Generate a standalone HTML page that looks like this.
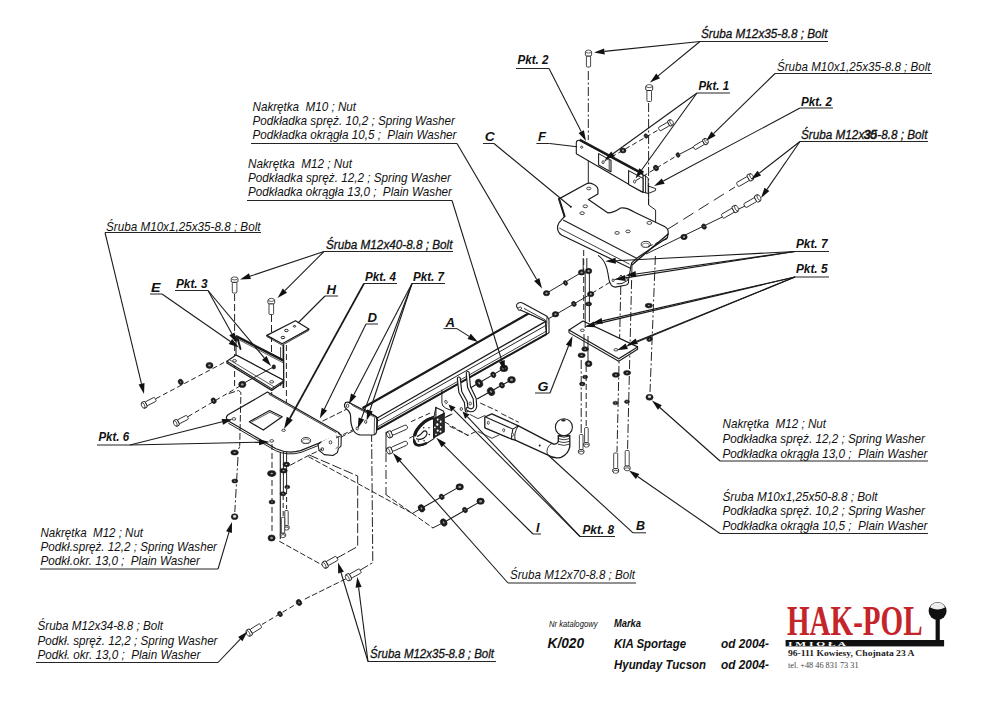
<!DOCTYPE html>
<html><head><meta charset="utf-8"><title>HAK-POL K/020</title>
<style>html,body{margin:0;padding:0;background:#fff}body{width:1000px;height:707px;overflow:hidden}svg{display:block}</style>
</head><body>
<svg width="1000" height="707" viewBox="0 0 1000 707">
<rect width="1000" height="707" fill="#fff"/>
<line x1="234.6" y1="294" x2="234.6" y2="360" stroke="#1a1a1a" stroke-width="0.96" stroke-dasharray="7 3"/>
<line x1="271.5" y1="315" x2="271.5" y2="381" stroke="#1a1a1a" stroke-width="0.96" stroke-dasharray="7 3"/>
<line x1="234.6" y1="362" x2="234.6" y2="389" stroke="#1a1a1a" stroke-width="0.96" stroke-dasharray="6 3"/>
<line x1="271.7" y1="383" x2="271.7" y2="410" stroke="#1a1a1a" stroke-width="0.96" stroke-dasharray="6 3"/>
<line x1="277.4" y1="418" x2="277.4" y2="446" stroke="#1a1a1a" stroke-width="0.96" stroke-dasharray="6 3"/>
<line x1="286.4" y1="345" x2="286.4" y2="428" stroke="#1a1a1a" stroke-width="0.96" stroke-dasharray="6 3"/>
<path d="M266.8 335.4 L295.5 320.7 L308.8 329.1 L282.2 343.8 Z" fill="#fff" stroke="#1a1a1a" stroke-width="1.2" stroke-linejoin="round" stroke-linecap="round"/>
<path d="M266.8 335.4 L266.8 336.6 L282.2 345.2 L308.8 330.4 L308.8 329.1" fill="none" stroke="#1a1a1a" stroke-width="0.84" stroke-linejoin="round" stroke-linecap="round"/>
<ellipse cx="286.4" cy="330.5" rx="1.8" ry="1.2" fill="#fff" stroke="#1a1a1a" stroke-width="1"/>
<ellipse cx="294.5" cy="326.3" rx="1.2" ry="0.8" fill="#fff" stroke="#1a1a1a" stroke-width="1"/>
<ellipse cx="282.9" cy="337.5" rx="1.8" ry="1.2" fill="#fff" stroke="#1a1a1a" stroke-width="1"/>
<line x1="283.4" y1="345" x2="283.4" y2="388" stroke="#1a1a1a" stroke-width="1.68"/>
<line x1="280.6" y1="347" x2="280.6" y2="386" stroke="#1a1a1a" stroke-width="0.84"/>
<path d="M236 336.1 L283.6 360.6 L283.6 380.2 L236 355 Z" fill="#fff" stroke="#1a1a1a" stroke-width="1.08" stroke-linejoin="round" stroke-linecap="round"/>
<line x1="236" y1="336.1" x2="283.6" y2="360.6" stroke="#1a1a1a" stroke-width="2.4"/>
<line x1="236.4" y1="338.5" x2="283.6" y2="363" stroke="#1a1a1a" stroke-width="0.72"/>
<path d="M236 355 L226.9 361.3 L271.7 388.6 L282.6 381.4 L283.6 380.2 Z" fill="#fff" stroke="#1a1a1a" stroke-width="1.08" stroke-linejoin="round" stroke-linecap="round"/>
<path d="M226.9 361.3 L226.9 363 L271.7 390.4 L283.6 382.2 L283.6 380" fill="none" stroke="#1a1a1a" stroke-width="1.32" stroke-linejoin="round" stroke-linecap="round"/>
<line x1="229.5" y1="359.8" x2="274" y2="386.8" stroke="#1a1a1a" stroke-width="0.72"/>
<ellipse cx="234.6" cy="360.8" rx="2" ry="1.2" fill="#fff" stroke="#1a1a1a" stroke-width="0.8"/>
<ellipse cx="271.7" cy="381.8" rx="2" ry="1.2" fill="#fff" stroke="#1a1a1a" stroke-width="0.8"/>
<ellipse cx="273.8" cy="366.9" rx="1.8" ry="2.2" fill="#222" stroke="#1a1a1a" stroke-width="0.5"/>
<ellipse cx="236.9" cy="338.4" rx="1.6" ry="2.2" fill="#222" stroke="#1a1a1a" stroke-width="0.5"/>
<path d="M238 340 L240.5 349" fill="none" stroke="#1a1a1a" stroke-width="1.92" stroke-linejoin="round" stroke-linecap="round"/>
<path d="M267.5 392.1 L338.2 432.2 Q341 433.8 338.5 435.2 L300.5 450.6 Q288 454.2 276 448.8 L229.3 421.6 Q224.2 418.2 228 414.8 Z" fill="#fff" stroke="#1a1a1a" stroke-width="1.2" stroke-linejoin="round" stroke-linecap="round"/>
<path d="M269 394.3 L336 432.5" fill="none" stroke="#1a1a1a" stroke-width="0.84" stroke-linejoin="round" stroke-linecap="round"/>
<path d="M228.6 423.3 L275.4 450.6 Q288 456.2 301 452.4 L336 438.5" fill="none" stroke="#1a1a1a" stroke-width="0.96" stroke-linejoin="round" stroke-linecap="round"/>
<path d="M249.3 421.7 L269.6 410.5 L282.2 416.8 L263.3 430.1 Z" fill="#fff" stroke="#1a1a1a" stroke-width="1.2" stroke-linejoin="round" stroke-linecap="round"/>
<path d="M251.8 421.8 L270 412.2 L280 417.4" fill="none" stroke="#1a1a1a" stroke-width="0.72" stroke-linejoin="round" stroke-linecap="round"/>
<ellipse cx="233.9" cy="418.9" rx="1.9" ry="1.3" fill="#fff" stroke="#1a1a1a" stroke-width="0.8"/>
<ellipse cx="271.7" cy="440.9" rx="1.9" ry="1.3" fill="#fff" stroke="#1a1a1a" stroke-width="0.8"/>
<ellipse cx="306" cy="440.6" rx="4.6" ry="3" fill="#fff" stroke="#1a1a1a" stroke-width="0.9"/>
<ellipse cx="306" cy="441.2" rx="3.6" ry="2.1" fill="#fff" stroke="#1a1a1a" stroke-width="0.5"/>
<ellipse cx="283.6" cy="430.3" rx="1.8" ry="1.1" fill="#fff" stroke="#1a1a1a" stroke-width="0.8"/>
<path d="M338.6 433.5 L341.3 435 L341 446.2 L338.4 448.3 L337.4 452.6 L333 455.5 L324.2 454.6 L319 450.4 L318 444.5 L321 442" fill="#fff" stroke="#1a1a1a" stroke-width="1.08" stroke-linejoin="round" stroke-linecap="round"/>
<path d="M336.2 436 L338.6 437.4 L338.4 446.6 L336 448.4" fill="none" stroke="#1a1a1a" stroke-width="0.72" stroke-linejoin="round" stroke-linecap="round"/>
<ellipse cx="330.5" cy="442.3" rx="1.3" ry="1.6" fill="#fff" stroke="#1a1a1a" stroke-width="0.8"/>
<ellipse cx="322.3" cy="449.2" rx="1.3" ry="1.6" fill="#fff" stroke="#1a1a1a" stroke-width="0.8"/>
<g transform="translate(144.3 404.8) rotate(-27)">
<rect x="2" y="-2.2" width="10.5" height="4.4" rx="1" fill="#fff" stroke="#1a1a1a" stroke-width="0.8"/>
<rect x="-2" y="-3.3" width="4" height="6.6" rx="1.4" fill="#fff" stroke="#1a1a1a" stroke-width="0.9"/>
<ellipse cx="-1.4" cy="0" rx="1.5" ry="2.9" fill="#fff" stroke="#1a1a1a" stroke-width="0.7"/>
</g>
<line x1="156" y1="398.6" x2="226" y2="361.5" stroke="#1a1a1a" stroke-width="0.96" stroke-dasharray="5 3"/>
<ellipse cx="180.7" cy="382" rx="3" ry="2.4" fill="#1c1c1c" stroke="#1a1a1a" stroke-width="0.5" transform="rotate(60 180.7 382)"/>
<ellipse cx="180.7" cy="382" rx="0.9" ry="0.5" fill="#aaa" stroke="#1a1a1a" stroke-width="0" transform="rotate(60 180.7 382)"/>
<ellipse cx="209.5" cy="365.4" rx="3.5" ry="3" fill="#1c1c1c" stroke="#1a1a1a" stroke-width="0.6"/>
<ellipse cx="209.5" cy="365.4" rx="1.3" ry="1.1" fill="#999" stroke="#1a1a1a" stroke-width="0"/>
<g transform="translate(176.5 422.8) rotate(-27)">
<rect x="2" y="-2.2" width="10.5" height="4.4" rx="1" fill="#fff" stroke="#1a1a1a" stroke-width="0.8"/>
<rect x="-2" y="-3.3" width="4" height="6.6" rx="1.4" fill="#fff" stroke="#1a1a1a" stroke-width="0.9"/>
<ellipse cx="-1.4" cy="0" rx="1.5" ry="2.9" fill="#fff" stroke="#1a1a1a" stroke-width="0.7"/>
</g>
<line x1="188" y1="416.6" x2="240" y2="386" stroke="#1a1a1a" stroke-width="0.96" stroke-dasharray="5 3"/>
<ellipse cx="213.7" cy="400.7" rx="3" ry="2.4" fill="#1c1c1c" stroke="#1a1a1a" stroke-width="0.5" transform="rotate(60 213.7 400.7)"/>
<ellipse cx="213.7" cy="400.7" rx="0.9" ry="0.5" fill="#aaa" stroke="#1a1a1a" stroke-width="0" transform="rotate(60 213.7 400.7)"/>
<ellipse cx="242.3" cy="384.4" rx="3.6" ry="3.1" fill="#1c1c1c" stroke="#1a1a1a" stroke-width="0.6"/>
<ellipse cx="242.3" cy="384.4" rx="1.4" ry="1.2" fill="#999" stroke="#1a1a1a" stroke-width="0"/>
<line x1="244" y1="383" x2="273" y2="367.2" stroke="#1a1a1a" stroke-width="0.96"/>
<path d="M229 393.5 L238.5 390.5 L240.9 392.5 L239.7 446" fill="none" stroke="#1a1a1a" stroke-width="0.96" stroke-linejoin="round" stroke-linecap="round" stroke-dasharray="6 3"/>
<g transform="translate(234.6 280) rotate(90)">
<rect x="2.2" y="-2.3" width="10.8" height="4.6" rx="1" fill="#fff" stroke="#1a1a1a" stroke-width="0.8"/>
<rect x="-2.2" y="-3.4" width="4.5" height="6.8" rx="1.4" fill="#fff" stroke="#1a1a1a" stroke-width="0.9"/>
<ellipse cx="-1.6" cy="0" rx="1.5" ry="3" fill="#fff" stroke="#1a1a1a" stroke-width="0.7"/>
</g>
<g transform="translate(271.3 301.5) rotate(90)">
<rect x="2.2" y="-2.3" width="10.8" height="4.6" rx="1" fill="#fff" stroke="#1a1a1a" stroke-width="0.8"/>
<rect x="-2.2" y="-3.4" width="4.5" height="6.8" rx="1.4" fill="#fff" stroke="#1a1a1a" stroke-width="0.9"/>
<ellipse cx="-1.6" cy="0" rx="1.5" ry="3" fill="#fff" stroke="#1a1a1a" stroke-width="0.7"/>
</g>
<line x1="239.6" y1="447" x2="238.6" y2="449" stroke="#1a1a1a" stroke-width="0.96" stroke-dasharray="6 3"/>
<line x1="238" y1="457" x2="234.8" y2="512" stroke="#1a1a1a" stroke-width="0.96" stroke-dasharray="9 2.5 2 2.5"/>
<ellipse cx="234.6" cy="452.5" rx="3.8" ry="2.6" fill="#1c1c1c" stroke="#1a1a1a" stroke-width="0.5"/>
<ellipse cx="234.6" cy="452.5" rx="1.1" ry="0.7" fill="#aaa" stroke="#1a1a1a" stroke-width="0"/>
<ellipse cx="234.8" cy="481" rx="3" ry="2" fill="#1c1c1c" stroke="#1a1a1a" stroke-width="0.5"/>
<ellipse cx="234.8" cy="481" rx="0.9" ry="0.5" fill="#aaa" stroke="#1a1a1a" stroke-width="0"/>
<ellipse cx="234.6" cy="516.7" rx="3.4" ry="3" fill="#222" stroke="#1a1a1a" stroke-width="0.5"/>
<ellipse cx="234.6" cy="516.4" rx="1.6" ry="1.3" fill="#ddd" stroke="#1a1a1a" stroke-width="0"/>
<line x1="272" y1="444" x2="272" y2="534" stroke="#1a1a1a" stroke-width="0.96" stroke-dasharray="6 3"/>
<ellipse cx="271.7" cy="473.5" rx="4.2" ry="2.9" fill="#1c1c1c" stroke="#1a1a1a" stroke-width="0.5"/>
<ellipse cx="271.7" cy="473.5" rx="1.3" ry="0.8" fill="#aaa" stroke="#1a1a1a" stroke-width="0"/>
<ellipse cx="272" cy="502" rx="3" ry="2" fill="#1c1c1c" stroke="#1a1a1a" stroke-width="0.5"/>
<ellipse cx="272" cy="502" rx="0.9" ry="0.5" fill="#aaa" stroke="#1a1a1a" stroke-width="0"/>
<ellipse cx="271.6" cy="538" rx="3.6" ry="3.1" fill="#1c1c1c" stroke="#1a1a1a" stroke-width="0.6"/>
<ellipse cx="271.6" cy="538" rx="1.4" ry="1.2" fill="#999" stroke="#1a1a1a" stroke-width="0"/>
<line x1="280.3" y1="452" x2="280.3" y2="539" stroke="#1a1a1a" stroke-width="1.08"/>
<line x1="283.4" y1="452" x2="283.4" y2="492" stroke="#1a1a1a" stroke-width="0.96"/>
<line x1="286.6" y1="452" x2="286.6" y2="487" stroke="#1a1a1a" stroke-width="0.96"/>
<ellipse cx="286.4" cy="464.4" rx="3.4" ry="2.3" fill="#1c1c1c" stroke="#1a1a1a" stroke-width="0.5"/>
<ellipse cx="286.4" cy="464.4" rx="1" ry="0.6" fill="#aaa" stroke="#1a1a1a" stroke-width="0"/>
<ellipse cx="283.6" cy="470.7" rx="3.6" ry="2.4" fill="#1c1c1c" stroke="#1a1a1a" stroke-width="0.5"/>
<ellipse cx="283.6" cy="470.7" rx="1.1" ry="0.6" fill="#aaa" stroke="#1a1a1a" stroke-width="0"/>
<ellipse cx="287.3" cy="487" rx="2.6" ry="1.8" fill="#1c1c1c" stroke="#1a1a1a" stroke-width="0.5"/>
<ellipse cx="287.3" cy="487" rx="0.8" ry="0.5" fill="#aaa" stroke="#1a1a1a" stroke-width="0"/>
<ellipse cx="283" cy="493.8" rx="3" ry="2" fill="#1c1c1c" stroke="#1a1a1a" stroke-width="0.5"/>
<ellipse cx="283" cy="493.8" rx="0.9" ry="0.5" fill="#aaa" stroke="#1a1a1a" stroke-width="0"/>
<line x1="283.2" y1="495" x2="283.2" y2="516" stroke="#1a1a1a" stroke-width="0.96" stroke-dasharray="5 3"/>
<line x1="286.6" y1="489" x2="286.6" y2="509" stroke="#1a1a1a" stroke-width="0.96" stroke-dasharray="5 3"/>
<g transform="translate(286.5 527.5) rotate(-90)">
<rect x="1.8" y="-1.7" width="15.2" height="3.4" rx="1" fill="#fff" stroke="#1a1a1a" stroke-width="0.8"/>
<rect x="-1.8" y="-2.7" width="3.5" height="5.4" rx="1.4" fill="#fff" stroke="#1a1a1a" stroke-width="0.9"/>
<ellipse cx="-1.1" cy="0" rx="1.5" ry="2.3" fill="#fff" stroke="#1a1a1a" stroke-width="0.7"/>
</g>
<g transform="translate(283 535) rotate(-90)">
<rect x="1.8" y="-1.7" width="15.8" height="3.4" rx="1" fill="#fff" stroke="#1a1a1a" stroke-width="0.8"/>
<rect x="-1.8" y="-2.7" width="3.5" height="5.4" rx="1.4" fill="#fff" stroke="#1a1a1a" stroke-width="0.9"/>
<ellipse cx="-1.1" cy="0" rx="1.5" ry="2.3" fill="#fff" stroke="#1a1a1a" stroke-width="0.7"/>
</g>
<path d="M279.6 541.4 L323 565.5" fill="none" stroke="#1a1a1a" stroke-width="0.96" stroke-linejoin="round" stroke-linecap="round" stroke-dasharray="5 3"/>
<path d="M337 558 L357.7 546.5 L357.7 476 L308.7 454.8" fill="none" stroke="#1a1a1a" stroke-width="0.96" stroke-linejoin="round" stroke-linecap="round" stroke-dasharray="9 3.5"/>
<path d="M360 570.3 L372.8 562.6 L371.6 435" fill="none" stroke="#1a1a1a" stroke-width="0.96" stroke-linejoin="round" stroke-linecap="round" stroke-dasharray="9 3 2 3"/>
<path d="M308.7 456.8 L412.4 513.4" fill="none" stroke="#1a1a1a" stroke-width="0.96" stroke-linejoin="round" stroke-linecap="round" stroke-dasharray="5 3"/>
<line x1="412.4" y1="513.4" x2="421.7" y2="508.2" stroke="#1a1a1a" stroke-width="0.96"/>
<path d="M345.5 579 L303 600" fill="none" stroke="#1a1a1a" stroke-width="0.96" stroke-linejoin="round" stroke-linecap="round" stroke-dasharray="5 3"/>
<path d="M290.6 465 L308.7 455.4 L322 449.2" fill="none" stroke="#1a1a1a" stroke-width="0.96" stroke-linejoin="round" stroke-linecap="round" stroke-dasharray="5 3"/>
<path d="M322.8 421 L347 409" fill="none" stroke="#1a1a1a" stroke-width="0.96" stroke-linejoin="round" stroke-linecap="round" stroke-dasharray="5 3"/>
<path d="M341 437.1 L357 429" fill="none" stroke="#1a1a1a" stroke-width="0.96" stroke-linejoin="round" stroke-linecap="round" stroke-dasharray="5 3"/>
<g transform="translate(325.3 564.6) rotate(-29)">
<rect x="2.1" y="-2.3" width="11.4" height="4.6" rx="1" fill="#fff" stroke="#1a1a1a" stroke-width="0.8"/>
<rect x="-2.1" y="-3.5" width="4.2" height="7" rx="1.4" fill="#fff" stroke="#1a1a1a" stroke-width="0.9"/>
<ellipse cx="-1.5" cy="0" rx="1.5" ry="3.1" fill="#fff" stroke="#1a1a1a" stroke-width="0.7"/>
</g>
<g transform="translate(348.6 577.2) rotate(-29)">
<rect x="2.1" y="-2.3" width="11.4" height="4.6" rx="1" fill="#fff" stroke="#1a1a1a" stroke-width="0.8"/>
<rect x="-2.1" y="-3.5" width="4.2" height="7" rx="1.4" fill="#fff" stroke="#1a1a1a" stroke-width="0.9"/>
<ellipse cx="-1.5" cy="0" rx="1.5" ry="3.1" fill="#fff" stroke="#1a1a1a" stroke-width="0.7"/>
</g>
<g transform="translate(249.3 632.6) rotate(-32)">
<rect x="2.1" y="-2.3" width="11.4" height="4.6" rx="1" fill="#fff" stroke="#1a1a1a" stroke-width="0.8"/>
<rect x="-2.1" y="-3.5" width="4.2" height="7" rx="1.4" fill="#fff" stroke="#1a1a1a" stroke-width="0.9"/>
<ellipse cx="-1.5" cy="0" rx="1.5" ry="3.1" fill="#fff" stroke="#1a1a1a" stroke-width="0.7"/>
</g>
<line x1="262" y1="624.5" x2="303" y2="600" stroke="#1a1a1a" stroke-width="0.96" stroke-dasharray="5 3"/>
<ellipse cx="280" cy="614" rx="2.8" ry="2.2" fill="#1c1c1c" stroke="#1a1a1a" stroke-width="0.5" transform="rotate(60 280 614)"/>
<ellipse cx="280" cy="614" rx="0.8" ry="0.5" fill="#aaa" stroke="#1a1a1a" stroke-width="0" transform="rotate(60 280 614)"/>
<ellipse cx="299" cy="602.5" rx="3.2" ry="2.6" fill="#1c1c1c" stroke="#1a1a1a" stroke-width="0.5" transform="rotate(60 299 602.5)"/>
<ellipse cx="299" cy="602.5" rx="1" ry="0.6" fill="#aaa" stroke="#1a1a1a" stroke-width="0" transform="rotate(60 299 602.5)"/>
<path d="M362.7 408.1 L528.5 313.5 L545.5 321.3 L546.5 334.1 L377 429.7 L377.7 417.7 Z" fill="#fff" stroke="#1a1a1a" stroke-width="1.08" stroke-linejoin="round" stroke-linecap="round"/>
<line x1="362.7" y1="408.1" x2="528.5" y2="313.5" stroke="#1a1a1a" stroke-width="2.28"/>
<line x1="377.7" y1="417.7" x2="545.3" y2="321.6" stroke="#1a1a1a" stroke-width="1.32"/>
<line x1="377.4" y1="421.2" x2="545.9" y2="325.4" stroke="#1a1a1a" stroke-width="0.96"/>
<line x1="377" y1="429.7" x2="546.5" y2="334.1" stroke="#1a1a1a" stroke-width="2.04"/>
<line x1="377.2" y1="427" x2="546.3" y2="331.2" stroke="#1a1a1a" stroke-width="0.84"/>
<path d="M528.5 313.5 L519 309.5 Q514.5 306 518 303.2 Q520.5 301.8 523 303.3 L547 316.2 L549 319.5 L549 332.8 L546.5 334.4 L545.6 321.6 Z" fill="#fff" stroke="#1a1a1a" stroke-width="1.08" stroke-linejoin="round" stroke-linecap="round"/>
<path d="M524.3 308.6 L545 319.8 L546.5 322" fill="none" stroke="#1a1a1a" stroke-width="0.84" stroke-linejoin="round" stroke-linecap="round"/>
<line x1="547" y1="316.5" x2="546.3" y2="334" stroke="#1a1a1a" stroke-width="0.84"/>
<ellipse cx="519.7" cy="308.6" rx="1.4" ry="2" fill="#fff" stroke="#1a1a1a" stroke-width="0.8" transform="rotate(60 519.7 308.6)"/>
<path d="M345.5 402.6 Q348 401.2 350.5 403.2 L374.7 415.9 Q377 417 376.8 420 L376.5 432 Q376 434.8 373 435 L360 434.8 Q356 434.5 353.5 430.5 Q350.5 425 350.6 416.5 Q350.6 412 346.5 409 Q343 406 345.5 402.6 Z" fill="#fff" stroke="#1a1a1a" stroke-width="1.2" stroke-linejoin="round" stroke-linecap="round"/>
<path d="M350.5 403.2 L352.5 405.5 L375 417.5" fill="none" stroke="#1a1a1a" stroke-width="0.72" stroke-linejoin="round" stroke-linecap="round"/>
<line x1="374.5" y1="418" x2="374.2" y2="434" stroke="#1a1a1a" stroke-width="0.72"/>
<ellipse cx="347.6" cy="405.8" rx="1.2" ry="1.7" fill="#fff" stroke="#1a1a1a" stroke-width="0.8"/>
<ellipse cx="365.7" cy="421.9" rx="1.1" ry="1.6" fill="#fff" stroke="#1a1a1a" stroke-width="0.8"/>
<ellipse cx="357.2" cy="428.5" rx="1.1" ry="1.6" fill="#fff" stroke="#1a1a1a" stroke-width="0.8"/>
<line x1="336" y1="438" x2="353" y2="429.7" stroke="#1a1a1a" stroke-width="0.96" stroke-dasharray="5 3"/>
<path d="M458.8 378.5 L460.3 392 L465.8 402 L466.7 410.5" fill="none" stroke="#1a1a1a" stroke-width="4.08" stroke-linejoin="round" stroke-linecap="round"/>
<path d="M458.8 378.5 L460.3 392 L465.8 402 L466.7 410.5" fill="none" stroke="#fff" stroke-width="1.8" stroke-linejoin="round" stroke-linecap="round"/>
<path d="M467.7 373 L469 387 L474.7 398.6 L475.2 406.5 Q474.5 410.5 470.5 410.3 L467.5 409" fill="none" stroke="#1a1a1a" stroke-width="4.08" stroke-linejoin="round" stroke-linecap="round"/>
<path d="M467.7 373 L469 387 L474.7 398.6 L475.2 406.5 Q474.5 410.5 470.5 410.3 L467.5 409" fill="none" stroke="#fff" stroke-width="1.8" stroke-linejoin="round" stroke-linecap="round"/>
<ellipse cx="461.3" cy="409" rx="1.2" ry="1.5" fill="#fff" stroke="#1a1a1a" stroke-width="0.8"/>
<ellipse cx="470.2" cy="403.5" rx="1.2" ry="1.5" fill="#fff" stroke="#1a1a1a" stroke-width="0.8"/>
<line x1="470.7" y1="387.7" x2="503.9" y2="368.4" stroke="#1a1a1a" stroke-width="1.08"/>
<line x1="477.1" y1="399" x2="511.5" y2="379.8" stroke="#1a1a1a" stroke-width="1.08"/>
<ellipse cx="503.9" cy="368.4" rx="3.9" ry="3.3" fill="#1c1c1c" stroke="#1a1a1a" stroke-width="0.6"/>
<ellipse cx="503.9" cy="368.4" rx="1.5" ry="1.2" fill="#999" stroke="#1a1a1a" stroke-width="0"/>
<ellipse cx="493.3" cy="374.8" rx="3" ry="2.4" fill="#1c1c1c" stroke="#1a1a1a" stroke-width="0.5" transform="rotate(60 493.3 374.8)"/>
<ellipse cx="493.3" cy="374.8" rx="0.9" ry="0.5" fill="#aaa" stroke="#1a1a1a" stroke-width="0" transform="rotate(60 493.3 374.8)"/>
<ellipse cx="479.1" cy="383.2" rx="4.3" ry="3.4" fill="#1c1c1c" stroke="#1a1a1a" stroke-width="0.5" transform="rotate(60 479.1 383.2)"/>
<ellipse cx="479.1" cy="383.2" rx="1.3" ry="0.8" fill="#aaa" stroke="#1a1a1a" stroke-width="0" transform="rotate(60 479.1 383.2)"/>
<ellipse cx="511.5" cy="379.8" rx="3.9" ry="3.3" fill="#1c1c1c" stroke="#1a1a1a" stroke-width="0.6"/>
<ellipse cx="511.5" cy="379.8" rx="1.5" ry="1.2" fill="#999" stroke="#1a1a1a" stroke-width="0"/>
<ellipse cx="501.9" cy="385.2" rx="3" ry="2.4" fill="#1c1c1c" stroke="#1a1a1a" stroke-width="0.5" transform="rotate(60 501.9 385.2)"/>
<ellipse cx="501.9" cy="385.2" rx="0.9" ry="0.5" fill="#aaa" stroke="#1a1a1a" stroke-width="0" transform="rotate(60 501.9 385.2)"/>
<ellipse cx="491" cy="391.6" rx="4.3" ry="3.4" fill="#1c1c1c" stroke="#1a1a1a" stroke-width="0.5" transform="rotate(60 491 391.6)"/>
<ellipse cx="491" cy="391.6" rx="1.3" ry="0.8" fill="#aaa" stroke="#1a1a1a" stroke-width="0" transform="rotate(60 491 391.6)"/>
<path d="M441.9 390 L441.9 403 Q442.3 406.5 445.5 408 L451.5 410.6" fill="none" stroke="#1a1a1a" stroke-width="0.96" stroke-linejoin="round" stroke-linecap="round"/>
<ellipse cx="446" cy="401.9" rx="1.1" ry="1.7" fill="#fff" stroke="#1a1a1a" stroke-width="0.8" transform="rotate(-25 446 401.9)"/>
<g transform="translate(389.5 434.4) rotate(-24)">
<rect x="2" y="-2.2" width="17.5" height="4.4" rx="2.1" fill="#fff" stroke="#1a1a1a" stroke-width="0.8"/>
<rect x="-2.2" y="-3.3" width="4.6" height="6.6" rx="1.3" fill="#fff" stroke="#1a1a1a" stroke-width="0.9"/>
<ellipse cx="-1.4" cy="0" rx="1.4" ry="2.8" fill="#fff" stroke="#1a1a1a" stroke-width="0.7"/>
</g>
<g transform="translate(389.5 450.5) rotate(-24)">
<rect x="2" y="-2.2" width="17.5" height="4.4" rx="2.1" fill="#fff" stroke="#1a1a1a" stroke-width="0.8"/>
<rect x="-2.2" y="-3.3" width="4.6" height="6.6" rx="1.3" fill="#fff" stroke="#1a1a1a" stroke-width="0.9"/>
<ellipse cx="-1.4" cy="0" rx="1.4" ry="2.8" fill="#fff" stroke="#1a1a1a" stroke-width="0.7"/>
</g>
<line x1="386" y1="431.8" x2="386" y2="452.5" stroke="#1a1a1a" stroke-width="0.96"/>
<path d="M434 416.6 Q426 418.5 421.2 423.5 Q415 429.5 413.8 434.6 L413.6 441.9 Q414.5 446 418.8 446 Q423 445.8 426 443.8 L434 438.6 Z" fill="#fff" stroke="#1a1a1a" stroke-width="1.08" stroke-linejoin="round" stroke-linecap="round"/>
<path d="M434 417.6 Q426.5 419.5 421.8 424.4 Q416 430 415 435" fill="none" stroke="#1a1a1a" stroke-width="3.12" stroke-linejoin="round" stroke-linecap="round"/>
<path d="M414.2 440.5 Q415 445 419 445.3 Q423 445.2 426 443.3" fill="none" stroke="#1a1a1a" stroke-width="2.4" stroke-linejoin="round" stroke-linecap="round"/>
<path d="M417.5 436.4 Q420.5 435 423 431.8 Q425 430 426.7 431.8 Q427.8 434 425.8 436.4 Q423.5 439 421.2 439.2 Q418.5 439.6 416.6 438.7" fill="none" stroke="#1a1a1a" stroke-width="1.2" stroke-linejoin="round" stroke-linecap="round"/>
<ellipse cx="423.7" cy="427.7" rx="0.8" ry="0.8" fill="#222" stroke="#1a1a1a" stroke-width="0"/>
<ellipse cx="429" cy="427.7" rx="0.8" ry="0.8" fill="#222" stroke="#1a1a1a" stroke-width="0"/>
<ellipse cx="429.3" cy="434.6" rx="0.8" ry="0.8" fill="#222" stroke="#1a1a1a" stroke-width="0"/>
<ellipse cx="418.4" cy="441" rx="0.8" ry="0.8" fill="#222" stroke="#1a1a1a" stroke-width="0"/>
<ellipse cx="424.1" cy="440.8" rx="0.8" ry="0.8" fill="#222" stroke="#1a1a1a" stroke-width="0"/>
<path d="M435.9 407.4 L443.4 411.1 L444.2 413.4 L433.6 419 Z" fill="#fff" stroke="#1a1a1a" stroke-width="1.08" stroke-linejoin="round" stroke-linecap="round"/>
<path d="M433.6 419 L444.2 413.4 L444.2 431.8 L433.6 437.6 Z" fill="#2a2a2a" stroke="#1a1a1a" stroke-width="1.2" stroke-linejoin="round" stroke-linecap="round"/>
<path d="M435.9 407.4 L435.9 417.5" fill="none" stroke="#1a1a1a" stroke-width="1.08" stroke-linejoin="round" stroke-linecap="round"/>
<ellipse cx="437.7" cy="419.6" rx="0.9" ry="1.1" fill="#fff" stroke="#1a1a1a" stroke-width="0"/>
<ellipse cx="437.3" cy="424.6" rx="1.1" ry="1.3" fill="#fff" stroke="#1a1a1a" stroke-width="0"/>
<ellipse cx="434.9" cy="427.4" rx="0.8" ry="0.9" fill="#fff" stroke="#1a1a1a" stroke-width="0"/>
<ellipse cx="437.7" cy="430.6" rx="1" ry="1.2" fill="#fff" stroke="#1a1a1a" stroke-width="0"/>
<ellipse cx="440.7" cy="421.7" rx="0.9" ry="1.1" fill="#fff" stroke="#1a1a1a" stroke-width="0"/>
<ellipse cx="440.7" cy="427" rx="0.8" ry="1" fill="#fff" stroke="#1a1a1a" stroke-width="0"/>
<ellipse cx="440.5" cy="431.5" rx="0.9" ry="1.1" fill="#fff" stroke="#1a1a1a" stroke-width="0"/>
<ellipse cx="436" cy="434.3" rx="0.8" ry="0.9" fill="#fff" stroke="#1a1a1a" stroke-width="0"/>
<line x1="411" y1="421.7" x2="431.3" y2="412.5" stroke="#1a1a1a" stroke-width="0.96" stroke-dasharray="5 3"/>
<line x1="409.2" y1="438.2" x2="413.8" y2="436" stroke="#1a1a1a" stroke-width="0.96"/>
<line x1="445" y1="422.1" x2="468" y2="435.5" stroke="#1a1a1a" stroke-width="0.96" stroke-dasharray="5 3"/>
<line x1="445" y1="417.5" x2="452.4" y2="413.9" stroke="#1a1a1a" stroke-width="0.96"/>
<path d="M449.8 426.3 L468 435.4 L476.4 431.2" fill="none" stroke="#1a1a1a" stroke-width="0.96" stroke-linejoin="round" stroke-linecap="round" stroke-dasharray="5 3"/>
<path d="M446 417 L452 414 M480.6 403.2 L497.4 410.9 M501.6 413.7 L518.4 422.1" fill="none" stroke="#1a1a1a" stroke-width="0.96" stroke-linejoin="round" stroke-linecap="round" stroke-dasharray="5 3"/>
<path d="M470 414.5 L478 418.6 L485 415.5 M478 431.5 L492 438.3 L499 435" fill="none" stroke="#1a1a1a" stroke-width="0.84" stroke-linejoin="round" stroke-linecap="round"/>
<path d="M484.8 417 L491.8 413.8 L518.4 425.8 L552 443.3 Q556.5 445.5 558.3 441.5 L558.3 435.5 L569.8 435.5 L569.8 446.6 Q568.5 454 561 457.3 Q554 459.2 547.5 454.8 L515.2 440.2 L511.2 439 L484.8 427.8 Z" fill="#fff" stroke="#1a1a1a" stroke-width="1.32" stroke-linejoin="round" stroke-linecap="round"/>
<line x1="485.5" y1="417" x2="512.8" y2="429.1" stroke="#1a1a1a" stroke-width="1.08"/>
<line x1="512.8" y1="429.1" x2="511.2" y2="439" stroke="#1a1a1a" stroke-width="1.08"/>
<line x1="512.8" y1="429.1" x2="518.4" y2="425.8" stroke="#1a1a1a" stroke-width="1.08"/>
<path d="M515.2 440.2 Q513.2 433 518.4 425.8" fill="none" stroke="#1a1a1a" stroke-width="0.96" stroke-linejoin="round" stroke-linecap="round"/>
<path d="M547.5 454.8 Q545 447.5 552 443.3" fill="none" stroke="#1a1a1a" stroke-width="0.84" stroke-linejoin="round" stroke-linecap="round"/>
<ellipse cx="488.3" cy="422.8" rx="1" ry="1.6" fill="#fff" stroke="#1a1a1a" stroke-width="0.7"/>
<ellipse cx="503.7" cy="430.2" rx="1" ry="1.6" fill="#fff" stroke="#1a1a1a" stroke-width="0.7"/>
<ellipse cx="512.5" cy="434.6" rx="1" ry="1.6" fill="#fff" stroke="#1a1a1a" stroke-width="0.7"/>
<ellipse cx="539.7" cy="445.5" rx="1" ry="1" fill="#222" stroke="#1a1a1a" stroke-width="0"/>
<path d="M558.3 438.7 Q563.9 441.0 569.5 438.7" fill="none" stroke="#1a1a1a" stroke-width="0.84" stroke-linejoin="round" stroke-linecap="round"/>
<path d="M558.3 441.5 Q563.9 443.8 569.5 441.5" fill="none" stroke="#1a1a1a" stroke-width="0.84" stroke-linejoin="round" stroke-linecap="round"/>
<path d="M558.3 444.3 Q563.9 446.6 569.5 444.3" fill="none" stroke="#1a1a1a" stroke-width="0.84" stroke-linejoin="round" stroke-linecap="round"/>
<path d="M558.3 436 Q563.9 438.6 569.5 436" fill="none" stroke="#1a1a1a" stroke-width="0.96" stroke-linejoin="round" stroke-linecap="round"/>
<circle cx="563.9" cy="427.2" r="8.5" fill="#fff" stroke="#1a1a1a" stroke-width="1.1"/>
<ellipse cx="563.4" cy="420.4" rx="2.2" ry="1.1" fill="#222" stroke="#1a1a1a" stroke-width="0"/>
<line x1="386" y1="453" x2="386" y2="494.7" stroke="#1a1a1a" stroke-width="0.96" stroke-dasharray="9 3 2 3"/>
<path d="M386 494.7 L432.8 527.9" fill="none" stroke="#1a1a1a" stroke-width="0.96" stroke-linejoin="round" stroke-linecap="round" stroke-dasharray="5 3"/>
<line x1="432.8" y1="527.9" x2="443.7" y2="522.5" stroke="#1a1a1a" stroke-width="0.96"/>
<line x1="421.5" y1="508.3" x2="459.7" y2="486.6" stroke="#1a1a1a" stroke-width="1.08"/>
<line x1="443.7" y1="522.5" x2="480.6" y2="501.4" stroke="#1a1a1a" stroke-width="1.08"/>
<ellipse cx="421.5" cy="508.3" rx="3.9" ry="3.1" fill="#1c1c1c" stroke="#1a1a1a" stroke-width="0.5" transform="rotate(60 421.5 508.3)"/>
<ellipse cx="421.5" cy="508.3" rx="1.2" ry="0.7" fill="#aaa" stroke="#1a1a1a" stroke-width="0" transform="rotate(60 421.5 508.3)"/>
<ellipse cx="441.7" cy="496.8" rx="2.9" ry="2.3" fill="#1c1c1c" stroke="#1a1a1a" stroke-width="0.5" transform="rotate(60 441.7 496.8)"/>
<ellipse cx="441.7" cy="496.8" rx="0.9" ry="0.5" fill="#aaa" stroke="#1a1a1a" stroke-width="0" transform="rotate(60 441.7 496.8)"/>
<ellipse cx="459.7" cy="486.9" rx="3.7" ry="3.1" fill="#1c1c1c" stroke="#1a1a1a" stroke-width="0.6"/>
<ellipse cx="459.7" cy="486.9" rx="1.4" ry="1.2" fill="#999" stroke="#1a1a1a" stroke-width="0"/>
<ellipse cx="443.7" cy="522.5" rx="3.9" ry="3.1" fill="#1c1c1c" stroke="#1a1a1a" stroke-width="0.5" transform="rotate(60 443.7 522.5)"/>
<ellipse cx="443.7" cy="522.5" rx="1.2" ry="0.7" fill="#aaa" stroke="#1a1a1a" stroke-width="0" transform="rotate(60 443.7 522.5)"/>
<ellipse cx="465" cy="510" rx="2.9" ry="2.3" fill="#1c1c1c" stroke="#1a1a1a" stroke-width="0.5" transform="rotate(60 465 510)"/>
<ellipse cx="465" cy="510" rx="0.9" ry="0.5" fill="#aaa" stroke="#1a1a1a" stroke-width="0" transform="rotate(60 465 510)"/>
<ellipse cx="480.6" cy="501.2" rx="3.7" ry="3.1" fill="#1c1c1c" stroke="#1a1a1a" stroke-width="0.6"/>
<ellipse cx="480.6" cy="501.2" rx="1.4" ry="1.2" fill="#999" stroke="#1a1a1a" stroke-width="0"/>
<line x1="588.3" y1="71" x2="588.3" y2="140" stroke="#1a1a1a" stroke-width="0.96" stroke-dasharray="9 2.5 2 2.5"/>
<line x1="588.3" y1="153" x2="588.3" y2="186" stroke="#1a1a1a" stroke-width="0.96" stroke-dasharray="20 0"/>
<line x1="648.6" y1="103" x2="648.6" y2="205" stroke="#1a1a1a" stroke-width="0.96" stroke-dasharray="9 2.5 2 2.5"/>
<path d="M648.6 192.6 L648.6 205 L655.6 210 L655.6 225.5" fill="none" stroke="#1a1a1a" stroke-width="0.96" stroke-linejoin="round" stroke-linecap="round"/>
<line x1="655.4" y1="256" x2="650" y2="392" stroke="#1a1a1a" stroke-width="0.96" stroke-dasharray="9 2.5 2 2.5"/>
<line x1="620.8" y1="286" x2="617" y2="452" stroke="#1a1a1a" stroke-width="0.96" stroke-dasharray="9 2.5 2 2.5"/>
<line x1="632" y1="264" x2="627.5" y2="452" stroke="#1a1a1a" stroke-width="0.96" stroke-dasharray="9 2.5 2 2.5"/>
<line x1="583.7" y1="250" x2="583.7" y2="330" stroke="#1a1a1a" stroke-width="0.96" stroke-dasharray="6 3"/>
<line x1="581.2" y1="360" x2="581.2" y2="436" stroke="#1a1a1a" stroke-width="0.96" stroke-dasharray="9 2.5 2 2.5"/>
<path d="M559 198.9 L585.6 184.2 Q589.5 182.2 593.3 184.2 Q597.9 186.4 597.9 189.5 L597.9 194 L588.4 199.6 L608 212.9 Q613 213 620.6 208 Q626 207 634.6 212.2 L664 226.2 Q668.5 228.6 668.2 232.5 L667.5 237.4 L637.4 257.7 L631.8 262.6 L630.4 268.2 L561.8 235.3 Q557 232 557.6 226.2 Q558.5 222 561 220.4 L564.6 216.4 Z" fill="#fff" stroke="#1a1a1a" stroke-width="1.2" stroke-linejoin="round" stroke-linecap="round"/>
<line x1="563.2" y1="219.9" x2="636.5" y2="258.2" stroke="#1a1a1a" stroke-width="1.08"/>
<line x1="559.2" y1="228" x2="629.5" y2="264.2" stroke="#1a1a1a" stroke-width="0.84"/>
<path d="M668.2 234 L638.2 259.5 L632.6 264.5" fill="none" stroke="#1a1a1a" stroke-width="1.44" stroke-linejoin="round" stroke-linecap="round"/>
<path d="M559 198.9 L564.6 216.4" fill="none" stroke="#1a1a1a" stroke-width="1.92" stroke-linejoin="round" stroke-linecap="round"/>
<ellipse cx="588.8" cy="188.5" rx="2.1" ry="1.3" fill="#fff" stroke="#1a1a1a" stroke-width="0.8"/>
<ellipse cx="570.9" cy="206.8" rx="1" ry="1" fill="#222" stroke="#1a1a1a" stroke-width="0"/>
<ellipse cx="585.3" cy="206.3" rx="2.3" ry="1.4" fill="#fff" stroke="#1a1a1a" stroke-width="0.8"/>
<ellipse cx="582.1" cy="213.2" rx="2.3" ry="1.4" fill="#fff" stroke="#1a1a1a" stroke-width="0.8"/>
<ellipse cx="617.1" cy="232.9" rx="2.2" ry="1.4" fill="#fff" stroke="#1a1a1a" stroke-width="0.8"/>
<ellipse cx="628" cy="231.4" rx="2.2" ry="1.4" fill="#fff" stroke="#1a1a1a" stroke-width="0.8"/>
<ellipse cx="649.3" cy="222.9" rx="2.4" ry="1.5" fill="#fff" stroke="#1a1a1a" stroke-width="0.8"/>
<ellipse cx="645.8" cy="244.4" rx="4.6" ry="3" fill="#fff" stroke="#1a1a1a" stroke-width="0.9"/>
<ellipse cx="645.8" cy="245.2" rx="3.5" ry="2" fill="#fff" stroke="#1a1a1a" stroke-width="0.5"/>
<path d="M598.4 255.6 Q604 259 606.8 268.2 Q608.2 274 608.9 279.4 Q610.5 287 615.2 287.1 L626.4 285 Q629 284 628.5 280.1 L630.6 268.2" fill="none" stroke="#1a1a1a" stroke-width="1.08" stroke-linejoin="round" stroke-linecap="round"/>
<path d="M613.5 280.3 L619 277.8 L621 275 L623 277.6 L626.5 277 L627.5 280.5 L622 283.5 L617 283.8" fill="none" stroke="#1a1a1a" stroke-width="0.96" stroke-linejoin="round" stroke-linecap="round"/>
<ellipse cx="613.1" cy="280.3" rx="1" ry="1.4" fill="#fff" stroke="#1a1a1a" stroke-width="0.8"/>
<path d="M576.3 142.8 Q576.5 140 579.5 140.3 L643 174.6 L643 192.2 L641.6 191.8 L576.3 153.8 Z" fill="#fff" stroke="#1a1a1a" stroke-width="1.08" stroke-linejoin="round" stroke-linecap="round"/>
<line x1="579.8" y1="139.9" x2="643" y2="173.9" stroke="#1a1a1a" stroke-width="2.4"/>
<ellipse cx="581.7" cy="147.2" rx="1.1" ry="1.1" fill="#fff" stroke="#1a1a1a" stroke-width="0.8"/>
<path d="M598.6 153.6 L609.2 159.4 L611 160.2 L611 171.8 L609.2 171 L598.6 165 Z" fill="#fff" stroke="#1a1a1a" stroke-width="1.08" stroke-linejoin="round" stroke-linecap="round"/>
<line x1="609.2" y1="159.4" x2="609.2" y2="171" stroke="#1a1a1a" stroke-width="0.84"/>
<ellipse cx="603.1" cy="162.2" rx="1.1" ry="1.5" fill="#fff" stroke="#1a1a1a" stroke-width="0.8"/>
<path d="M628.6 170.6 L643 178.4 L643 192.2 L628.6 184.6 Z" fill="#fff" stroke="#1a1a1a" stroke-width="1.08" stroke-linejoin="round" stroke-linecap="round"/>
<ellipse cx="634.6" cy="181.6" rx="1.1" ry="1.5" fill="#fff" stroke="#1a1a1a" stroke-width="0.8"/>
<path d="M643 175.3 L645.6 176 L648.2 178.5 L648.2 193.5 L643 192 M645.6 176 L645.6 192.8 M648.2 186 L655.6 188.6 L655.6 190.5 L648.2 193.5" fill="none" stroke="#1a1a1a" stroke-width="0.96" stroke-linejoin="round" stroke-linecap="round"/>
<path d="M569 330.1 L583 321 L637.6 346.9 L618.7 358.8 Z" fill="#fff" stroke="#1a1a1a" stroke-width="1.2" stroke-linejoin="round" stroke-linecap="round"/>
<path d="M569 330.1 L569 332.6 L618.7 361.2 L637.6 349.3 L637.6 346.9" fill="none" stroke="#1a1a1a" stroke-width="1.08" stroke-linejoin="round" stroke-linecap="round"/>
<ellipse cx="582.3" cy="330.3" rx="2" ry="1.2" fill="#fff" stroke="#1a1a1a" stroke-width="0.8"/>
<ellipse cx="615.9" cy="349.8" rx="2" ry="1.2" fill="#fff" stroke="#1a1a1a" stroke-width="0.8"/>
<g transform="translate(588.5 53.5) rotate(90)">
<rect x="2.5" y="-2.1" width="11" height="4.2" rx="1" fill="#fff" stroke="#1a1a1a" stroke-width="0.8"/>
<rect x="-2.5" y="-3.1" width="5" height="6.2" rx="1.4" fill="#fff" stroke="#1a1a1a" stroke-width="0.9"/>
<ellipse cx="-1.9" cy="0" rx="1.5" ry="2.7" fill="#fff" stroke="#1a1a1a" stroke-width="0.7"/>
</g>
<g transform="translate(649.2 88) rotate(90)">
<rect x="2.5" y="-2.3" width="11" height="4.6" rx="1" fill="#fff" stroke="#1a1a1a" stroke-width="0.8"/>
<rect x="-2.5" y="-3.5" width="5" height="7" rx="1.4" fill="#fff" stroke="#1a1a1a" stroke-width="0.9"/>
<ellipse cx="-1.9" cy="0" rx="1.5" ry="3.1" fill="#fff" stroke="#1a1a1a" stroke-width="0.7"/>
</g>
<line x1="604.5" y1="161" x2="659" y2="129.5" stroke="#1a1a1a" stroke-width="0.96" stroke-dasharray="5 3"/>
<g transform="translate(670.3 122.9) rotate(150)">
<rect x="2" y="-2" width="11" height="4" rx="1" fill="#fff" stroke="#1a1a1a" stroke-width="0.8"/>
<rect x="-2" y="-3" width="4" height="6" rx="1.4" fill="#fff" stroke="#1a1a1a" stroke-width="0.9"/>
<ellipse cx="-1.4" cy="0" rx="1.5" ry="2.6" fill="#fff" stroke="#1a1a1a" stroke-width="0.7"/>
</g>
<ellipse cx="646" cy="136" rx="2.3" ry="1.8" fill="#1c1c1c" stroke="#1a1a1a" stroke-width="0.5" transform="rotate(60 646 136)"/>
<ellipse cx="646" cy="136" rx="0.7" ry="0.4" fill="#aaa" stroke="#1a1a1a" stroke-width="0" transform="rotate(60 646 136)"/>
<ellipse cx="623" cy="150.5" rx="3" ry="2.5" fill="#1c1c1c" stroke="#1a1a1a" stroke-width="0.6"/>
<ellipse cx="623" cy="150.5" rx="1.1" ry="1" fill="#999" stroke="#1a1a1a" stroke-width="0"/>
<line x1="636" y1="180.5" x2="678" y2="155" stroke="#1a1a1a" stroke-width="0.96" stroke-dasharray="5 3"/>
<ellipse cx="656" cy="168" rx="3" ry="2.4" fill="#1c1c1c" stroke="#1a1a1a" stroke-width="0.5" transform="rotate(60 656 168)"/>
<ellipse cx="656" cy="168" rx="0.9" ry="0.5" fill="#aaa" stroke="#1a1a1a" stroke-width="0" transform="rotate(60 656 168)"/>
<ellipse cx="678" cy="155" rx="2.4" ry="1.9" fill="#1c1c1c" stroke="#1a1a1a" stroke-width="0.5" transform="rotate(60 678 155)"/>
<ellipse cx="678" cy="155" rx="0.7" ry="0.4" fill="#aaa" stroke="#1a1a1a" stroke-width="0" transform="rotate(60 678 155)"/>
<line x1="680" y1="154" x2="694" y2="146.8" stroke="#1a1a1a" stroke-width="0.96"/>
<g transform="translate(705.3 141.6) rotate(150)">
<rect x="2" y="-2" width="11" height="4" rx="1" fill="#fff" stroke="#1a1a1a" stroke-width="0.8"/>
<rect x="-2" y="-3" width="4" height="6" rx="1.4" fill="#fff" stroke="#1a1a1a" stroke-width="0.9"/>
<ellipse cx="-1.4" cy="0" rx="1.5" ry="2.6" fill="#fff" stroke="#1a1a1a" stroke-width="0.7"/>
</g>
<line x1="668" y1="229" x2="735" y2="187" stroke="#1a1a1a" stroke-width="0.96" stroke-dasharray="12 6"/>
<g transform="translate(750.3 177.3) rotate(150)">
<rect x="2.2" y="-2.3" width="12.8" height="4.6" rx="1" fill="#fff" stroke="#1a1a1a" stroke-width="0.8"/>
<rect x="-2.2" y="-3.5" width="4.5" height="7" rx="1.4" fill="#fff" stroke="#1a1a1a" stroke-width="0.9"/>
<ellipse cx="-1.6" cy="0" rx="1.5" ry="3.1" fill="#fff" stroke="#1a1a1a" stroke-width="0.7"/>
</g>
<line x1="646" y1="254" x2="745" y2="206" stroke="#1a1a1a" stroke-width="0.96"/>
<g transform="translate(757.6 198.4) rotate(150)">
<rect x="2.2" y="-2.3" width="12.8" height="4.6" rx="1" fill="#fff" stroke="#1a1a1a" stroke-width="0.8"/>
<rect x="-2.2" y="-3.5" width="4.5" height="7" rx="1.4" fill="#fff" stroke="#1a1a1a" stroke-width="0.9"/>
<ellipse cx="-1.6" cy="0" rx="1.5" ry="3.1" fill="#fff" stroke="#1a1a1a" stroke-width="0.7"/>
</g>
<g transform="translate(735.2 209) rotate(150)">
<rect x="2.2" y="-2.3" width="12.8" height="4.6" rx="1" fill="#fff" stroke="#1a1a1a" stroke-width="0.8"/>
<rect x="-2.2" y="-3.5" width="4.5" height="7" rx="1.4" fill="#fff" stroke="#1a1a1a" stroke-width="0.9"/>
<ellipse cx="-1.6" cy="0" rx="1.5" ry="3.1" fill="#fff" stroke="#1a1a1a" stroke-width="0.7"/>
</g>
<ellipse cx="704" cy="226.6" rx="2.8" ry="2.2" fill="#1c1c1c" stroke="#1a1a1a" stroke-width="0.5" transform="rotate(60 704 226.6)"/>
<ellipse cx="704" cy="226.6" rx="0.8" ry="0.5" fill="#aaa" stroke="#1a1a1a" stroke-width="0" transform="rotate(60 704 226.6)"/>
<ellipse cx="684" cy="237" rx="3.2" ry="2.7" fill="#1c1c1c" stroke="#1a1a1a" stroke-width="0.6"/>
<ellipse cx="684" cy="237" rx="1.2" ry="1" fill="#999" stroke="#1a1a1a" stroke-width="0"/>
<line x1="648" y1="246.5" x2="668" y2="238.5" stroke="#1a1a1a" stroke-width="0.96" stroke-dasharray="5 3"/>
<line x1="546.5" y1="293.2" x2="581.6" y2="272.4" stroke="#1a1a1a" stroke-width="0.96"/>
<ellipse cx="546.5" cy="293.2" rx="3.1" ry="2.6" fill="#1c1c1c" stroke="#1a1a1a" stroke-width="0.6"/>
<ellipse cx="546.5" cy="293.2" rx="1.2" ry="1" fill="#999" stroke="#1a1a1a" stroke-width="0"/>
<ellipse cx="565.5" cy="283" rx="2.5" ry="2" fill="#1c1c1c" stroke="#1a1a1a" stroke-width="0.5" transform="rotate(60 565.5 283)"/>
<ellipse cx="565.5" cy="283" rx="0.8" ry="0.4" fill="#aaa" stroke="#1a1a1a" stroke-width="0" transform="rotate(60 565.5 283)"/>
<ellipse cx="581.6" cy="272.4" rx="3.2" ry="2.7" fill="#1c1c1c" stroke="#1a1a1a" stroke-width="0.6"/>
<ellipse cx="581.6" cy="272.4" rx="1.2" ry="1" fill="#999" stroke="#1a1a1a" stroke-width="0"/>
<ellipse cx="588.6" cy="271" rx="3.2" ry="2.7" fill="#1c1c1c" stroke="#1a1a1a" stroke-width="0.6"/>
<ellipse cx="588.6" cy="271" rx="1.2" ry="1" fill="#999" stroke="#1a1a1a" stroke-width="0"/>
<line x1="548" y1="319" x2="590.7" y2="294.1" stroke="#1a1a1a" stroke-width="0.96"/>
<ellipse cx="555.5" cy="314.3" rx="3.2" ry="2.7" fill="#1c1c1c" stroke="#1a1a1a" stroke-width="0.6"/>
<ellipse cx="555.5" cy="314.3" rx="1.2" ry="1" fill="#999" stroke="#1a1a1a" stroke-width="0"/>
<ellipse cx="573.9" cy="303.9" rx="2.7" ry="2.2" fill="#1c1c1c" stroke="#1a1a1a" stroke-width="0.5" transform="rotate(60 573.9 303.9)"/>
<ellipse cx="573.9" cy="303.9" rx="0.8" ry="0.5" fill="#aaa" stroke="#1a1a1a" stroke-width="0" transform="rotate(60 573.9 303.9)"/>
<ellipse cx="590.7" cy="294.1" rx="3.2" ry="2.7" fill="#1c1c1c" stroke="#1a1a1a" stroke-width="0.6"/>
<ellipse cx="590.7" cy="294.1" rx="1.2" ry="1" fill="#999" stroke="#1a1a1a" stroke-width="0"/>
<line x1="592" y1="293.2" x2="612" y2="281" stroke="#1a1a1a" stroke-width="0.96" stroke-dasharray="5 3"/>
<ellipse cx="588.6" cy="303.9" rx="3" ry="2" fill="#1c1c1c" stroke="#1a1a1a" stroke-width="0.5"/>
<ellipse cx="588.6" cy="303.9" rx="0.9" ry="0.5" fill="#aaa" stroke="#1a1a1a" stroke-width="0"/>
<line x1="585.2" y1="272" x2="585.2" y2="328" stroke="#1a1a1a" stroke-width="0.96"/>
<line x1="589.4" y1="272" x2="589.4" y2="322" stroke="#1a1a1a" stroke-width="0.96"/>
<line x1="583.2" y1="258" x2="583.2" y2="270" stroke="#1a1a1a" stroke-width="0.96"/>
<line x1="586.8" y1="258" x2="586.8" y2="270" stroke="#1a1a1a" stroke-width="0.96"/>
<ellipse cx="648.8" cy="305.6" rx="3.6" ry="2.4" fill="#1c1c1c" stroke="#1a1a1a" stroke-width="0.5"/>
<ellipse cx="648.8" cy="305.6" rx="1.1" ry="0.6" fill="#aaa" stroke="#1a1a1a" stroke-width="0"/>
<ellipse cx="649.5" cy="339.2" rx="2.8" ry="2.2" fill="#1c1c1c" stroke="#1a1a1a" stroke-width="0.5" transform="rotate(-20 649.5 339.2)"/>
<ellipse cx="649.5" cy="339.2" rx="0.8" ry="0.5" fill="#aaa" stroke="#1a1a1a" stroke-width="0" transform="rotate(-20 649.5 339.2)"/>
<ellipse cx="585.1" cy="349" rx="3.4" ry="2.3" fill="#1c1c1c" stroke="#1a1a1a" stroke-width="0.5"/>
<ellipse cx="585.1" cy="349" rx="1" ry="0.6" fill="#aaa" stroke="#1a1a1a" stroke-width="0"/>
<ellipse cx="581.6" cy="355.3" rx="3.6" ry="2.4" fill="#1c1c1c" stroke="#1a1a1a" stroke-width="0.5"/>
<ellipse cx="581.6" cy="355.3" rx="1.1" ry="0.6" fill="#aaa" stroke="#1a1a1a" stroke-width="0"/>
<ellipse cx="588.6" cy="363.7" rx="3.4" ry="2.9" fill="#1c1c1c" stroke="#1a1a1a" stroke-width="0.6"/>
<ellipse cx="588.6" cy="363.7" rx="1.3" ry="1.1" fill="#999" stroke="#1a1a1a" stroke-width="0"/>
<line x1="584" y1="334" x2="584" y2="347" stroke="#1a1a1a" stroke-width="0.96"/>
<line x1="588" y1="336" x2="588" y2="361" stroke="#1a1a1a" stroke-width="0.96"/>
<ellipse cx="585.1" cy="377" rx="2.6" ry="1.8" fill="#1c1c1c" stroke="#1a1a1a" stroke-width="0.5"/>
<ellipse cx="585.1" cy="377" rx="0.8" ry="0.5" fill="#aaa" stroke="#1a1a1a" stroke-width="0"/>
<ellipse cx="582.3" cy="384" rx="2.8" ry="1.9" fill="#1c1c1c" stroke="#1a1a1a" stroke-width="0.5"/>
<ellipse cx="582.3" cy="384" rx="0.8" ry="0.5" fill="#aaa" stroke="#1a1a1a" stroke-width="0"/>
<ellipse cx="615.9" cy="374.9" rx="3.6" ry="2.4" fill="#1c1c1c" stroke="#1a1a1a" stroke-width="0.5"/>
<ellipse cx="615.9" cy="374.9" rx="1.1" ry="0.6" fill="#aaa" stroke="#1a1a1a" stroke-width="0"/>
<ellipse cx="627.1" cy="372.8" rx="3.6" ry="2.4" fill="#1c1c1c" stroke="#1a1a1a" stroke-width="0.5"/>
<ellipse cx="627.1" cy="372.8" rx="1.1" ry="0.6" fill="#aaa" stroke="#1a1a1a" stroke-width="0"/>
<ellipse cx="615.5" cy="403" rx="2.6" ry="1.8" fill="#1c1c1c" stroke="#1a1a1a" stroke-width="0.5"/>
<ellipse cx="615.5" cy="403" rx="0.8" ry="0.5" fill="#aaa" stroke="#1a1a1a" stroke-width="0"/>
<ellipse cx="627" cy="401.7" rx="2.6" ry="1.8" fill="#1c1c1c" stroke="#1a1a1a" stroke-width="0.5"/>
<ellipse cx="627" cy="401.7" rx="0.8" ry="0.5" fill="#aaa" stroke="#1a1a1a" stroke-width="0"/>
<ellipse cx="649.5" cy="397.3" rx="3.6" ry="3" fill="#222" stroke="#1a1a1a" stroke-width="0.5"/>
<ellipse cx="649.5" cy="396.8" rx="1.6" ry="1.2" fill="#ddd" stroke="#1a1a1a" stroke-width="0"/>
<line x1="586.2" y1="366" x2="586.2" y2="430" stroke="#1a1a1a" stroke-width="0.96" stroke-dasharray="6 3"/>
<g transform="translate(581.2 451.5) rotate(-90)">
<rect x="1.8" y="-1.8" width="15.2" height="3.6" rx="1" fill="#fff" stroke="#1a1a1a" stroke-width="0.8"/>
<rect x="-1.8" y="-2.8" width="3.6" height="5.6" rx="1.4" fill="#fff" stroke="#1a1a1a" stroke-width="0.9"/>
<ellipse cx="-1.2" cy="0" rx="1.5" ry="2.4" fill="#fff" stroke="#1a1a1a" stroke-width="0.7"/>
</g>
<g transform="translate(586.4 444.5) rotate(-90)">
<rect x="1.8" y="-1.8" width="15.2" height="3.6" rx="1" fill="#fff" stroke="#1a1a1a" stroke-width="0.8"/>
<rect x="-1.8" y="-2.8" width="3.6" height="5.6" rx="1.4" fill="#fff" stroke="#1a1a1a" stroke-width="0.9"/>
<ellipse cx="-1.2" cy="0" rx="1.5" ry="2.4" fill="#fff" stroke="#1a1a1a" stroke-width="0.7"/>
</g>
<g transform="translate(615.7 470.5) rotate(-90)">
<rect x="1.9" y="-2" width="15.6" height="4" rx="1" fill="#fff" stroke="#1a1a1a" stroke-width="0.8"/>
<rect x="-1.9" y="-3" width="3.8" height="6" rx="1.4" fill="#fff" stroke="#1a1a1a" stroke-width="0.9"/>
<ellipse cx="-1.3" cy="0" rx="1.5" ry="2.6" fill="#fff" stroke="#1a1a1a" stroke-width="0.7"/>
</g>
<g transform="translate(627.2 468) rotate(-90)">
<rect x="1.9" y="-2" width="15.6" height="4" rx="1" fill="#fff" stroke="#1a1a1a" stroke-width="0.8"/>
<rect x="-1.9" y="-3" width="3.8" height="6" rx="1.4" fill="#fff" stroke="#1a1a1a" stroke-width="0.9"/>
<ellipse cx="-1.3" cy="0" rx="1.5" ry="2.6" fill="#fff" stroke="#1a1a1a" stroke-width="0.7"/>
</g>
<text x="252.5" y="111" textLength="103.5" lengthAdjust="spacingAndGlyphs" style="font-family:'Liberation Sans',sans-serif;font-size:13px;font-style:italic;" fill="#111" xml:space="preserve">Nakrętka &#160;M10 ; Nut</text>
<text x="252.5" y="125" textLength="202.5" lengthAdjust="spacingAndGlyphs" style="font-family:'Liberation Sans',sans-serif;font-size:13px;font-style:italic;" fill="#111" xml:space="preserve">Podkładka spręż. 10,2 ; Spring Washer</text>
<text x="252.5" y="139" textLength="204" lengthAdjust="spacingAndGlyphs" style="font-family:'Liberation Sans',sans-serif;font-size:13px;font-style:italic;" fill="#111" xml:space="preserve">Podkładka okrągła 10,5 ; &#160;Plain Washer</text>
<line x1="251" y1="143.5" x2="457" y2="143.5" stroke="#1a1a1a" stroke-width="0.96"/>
<line x1="457" y1="143.5" x2="536.7" y2="279.4" stroke="#1a1a1a" stroke-width="1.08"/>
<polygon points="542,288.5 534.1,281 539.3,277.9" fill="#111"/>
<text x="248" y="168" textLength="104" lengthAdjust="spacingAndGlyphs" style="font-family:'Liberation Sans',sans-serif;font-size:13px;font-style:italic;" fill="#111" xml:space="preserve">Nakrętka &#160;M12 ; Nut</text>
<text x="248" y="182" textLength="203" lengthAdjust="spacingAndGlyphs" style="font-family:'Liberation Sans',sans-serif;font-size:13px;font-style:italic;" fill="#111" xml:space="preserve">Podkładka spręż. 12,2 ; Spring Washer</text>
<text x="248" y="196" textLength="204" lengthAdjust="spacingAndGlyphs" style="font-family:'Liberation Sans',sans-serif;font-size:13px;font-style:italic;" fill="#111" xml:space="preserve">Podkładka okrągła 13,0 ; &#160;Plain Washer</text>
<line x1="247" y1="200.5" x2="452" y2="200.5" stroke="#1a1a1a" stroke-width="0.96"/>
<line x1="452" y1="200.5" x2="501.9" y2="361" stroke="#1a1a1a" stroke-width="1.08"/>
<polygon points="505,371 499,361.9 504.7,360.1" fill="#111"/>
<text x="484.7" y="140.7" textLength="10" lengthAdjust="spacingAndGlyphs" style="font-family:'Liberation Sans',sans-serif;font-size:13px;font-weight:bold;font-style:italic;" fill="#111" xml:space="preserve">C</text>
<line x1="483" y1="143.5" x2="494" y2="143.5" stroke="#1a1a1a" stroke-width="0.96"/>
<line x1="494" y1="143.5" x2="571" y2="207" stroke="#1a1a1a" stroke-width="1.08"/>
<text x="538" y="140.7" textLength="8" lengthAdjust="spacingAndGlyphs" style="font-family:'Liberation Sans',sans-serif;font-size:13px;font-weight:bold;font-style:italic;" fill="#111" xml:space="preserve">F</text>
<line x1="536.4" y1="143.5" x2="549.6" y2="143.5" stroke="#1a1a1a" stroke-width="0.96"/>
<line x1="549.6" y1="143.5" x2="577" y2="146.7" stroke="#1a1a1a" stroke-width="1.08"/>
<text x="106" y="230.5" textLength="154.5" lengthAdjust="spacingAndGlyphs" style="font-family:'Liberation Sans',sans-serif;font-size:13px;font-style:italic;" fill="#111" xml:space="preserve">Śruba M10x1,25x35-8.8 ; Bolt</text>
<line x1="105" y1="232.5" x2="261" y2="232.5" stroke="#1a1a1a" stroke-width="0.96"/>
<line x1="105" y1="232.5" x2="141.5" y2="383.8" stroke="#1a1a1a" stroke-width="1.08"/>
<polygon points="144,394 138.6,384.5 144.5,383.1" fill="#111"/>
<text x="151" y="292" textLength="9.5" lengthAdjust="spacingAndGlyphs" style="font-family:'Liberation Sans',sans-serif;font-size:13px;font-weight:bold;font-style:italic;" fill="#111" xml:space="preserve">E</text>
<line x1="150" y1="294" x2="162" y2="294" stroke="#1a1a1a" stroke-width="0.96"/>
<line x1="162" y1="294" x2="230.4" y2="341.5" stroke="#1a1a1a" stroke-width="1.08"/>
<polygon points="239,347.5 228.7,344 232.1,339" fill="#111"/>
<text x="176" y="288" textLength="31.5" lengthAdjust="spacingAndGlyphs" style="font-family:'Liberation Sans',sans-serif;font-size:13px;font-weight:bold;font-style:italic;" fill="#111" xml:space="preserve">Pkt. 3</text>
<line x1="175" y1="290.5" x2="208" y2="290.5" stroke="#1a1a1a" stroke-width="0.96"/>
<line x1="208" y1="290.5" x2="231.9" y2="333.8" stroke="#1a1a1a" stroke-width="1.08"/>
<polygon points="237,343 229.3,335.3 234.5,332.4" fill="#111"/>
<line x1="208" y1="290.5" x2="264.3" y2="357.9" stroke="#1a1a1a" stroke-width="1.08"/>
<polygon points="271,366 262,359.9 266.6,356" fill="#111"/>
<text x="326" y="248.5" textLength="126.5" lengthAdjust="spacingAndGlyphs" style="font-family:'Liberation Sans',sans-serif;font-size:13px;font-style:italic;" fill="#111" xml:space="preserve" stroke="#111" stroke-width="0.3">Śruba M12x40-8.8 ; Bolt</text>
<line x1="324" y1="251.5" x2="453" y2="251.5" stroke="#1a1a1a" stroke-width="0.96"/>
<line x1="324" y1="251.5" x2="250" y2="276.2" stroke="#1a1a1a" stroke-width="1.08"/>
<polygon points="240,279.5 249,273.3 250.9,279" fill="#111"/>
<line x1="324" y1="251.5" x2="284.9" y2="290.6" stroke="#1a1a1a" stroke-width="1.08"/>
<polygon points="277.5,298 282.8,288.5 287,292.7" fill="#111"/>
<text x="326.5" y="293.5" textLength="9.5" lengthAdjust="spacingAndGlyphs" style="font-family:'Liberation Sans',sans-serif;font-size:13px;font-weight:bold;font-style:italic;" fill="#111" xml:space="preserve">H</text>
<line x1="325" y1="296" x2="338" y2="296" stroke="#1a1a1a" stroke-width="0.96"/>
<line x1="325" y1="296" x2="298" y2="323" stroke="#1a1a1a" stroke-width="1.08"/>
<text x="365" y="281" textLength="31" lengthAdjust="spacingAndGlyphs" style="font-family:'Liberation Sans',sans-serif;font-size:13px;font-weight:bold;font-style:italic;" fill="#111" xml:space="preserve">Pkt. 4</text>
<line x1="364" y1="283.5" x2="397" y2="283.5" stroke="#1a1a1a" stroke-width="0.96"/>
<line x1="364" y1="283.5" x2="289.8" y2="418.5" stroke="#1a1a1a" stroke-width="1.68"/>
<polygon points="284,429 286.8,416.8 292.8,420.1" fill="#111"/>
<text x="413" y="281" textLength="31" lengthAdjust="spacingAndGlyphs" style="font-family:'Liberation Sans',sans-serif;font-size:13px;font-weight:bold;font-style:italic;" fill="#111" xml:space="preserve">Pkt. 7</text>
<line x1="412" y1="283.5" x2="445" y2="283.5" stroke="#1a1a1a" stroke-width="0.96"/>
<line x1="412" y1="283.5" x2="353.7" y2="394.9" stroke="#1a1a1a" stroke-width="1.08"/>
<polygon points="348.8,404.2 351,393.5 356.3,396.3" fill="#111"/>
<line x1="412" y1="283.5" x2="369.9" y2="410.5" stroke="#1a1a1a" stroke-width="1.08"/>
<polygon points="366.6,420.5 367.1,409.6 372.8,411.5" fill="#111"/>
<line x1="412" y1="283.5" x2="361.4" y2="418.6" stroke="#1a1a1a" stroke-width="1.08"/>
<polygon points="357.7,428.4 358.6,417.5 364.2,419.6" fill="#111"/>
<text x="367.5" y="321.5" textLength="9.5" lengthAdjust="spacingAndGlyphs" style="font-family:'Liberation Sans',sans-serif;font-size:13px;font-weight:bold;font-style:italic;" fill="#111" xml:space="preserve">D</text>
<line x1="366" y1="324" x2="378" y2="324" stroke="#1a1a1a" stroke-width="0.96"/>
<line x1="366" y1="324" x2="324.4" y2="409.1" stroke="#1a1a1a" stroke-width="1.08"/>
<polygon points="319.8,418.5 321.7,407.7 327.1,410.4" fill="#111"/>
<text x="445.5" y="326.5" textLength="9.5" lengthAdjust="spacingAndGlyphs" style="font-family:'Liberation Sans',sans-serif;font-size:13px;font-weight:bold;font-style:italic;" fill="#111" xml:space="preserve">A</text>
<line x1="443.5" y1="328.6" x2="457" y2="328.6" stroke="#1a1a1a" stroke-width="0.96"/>
<line x1="457" y1="328.6" x2="469.1" y2="336.4" stroke="#1a1a1a" stroke-width="1.08"/>
<polygon points="478,342 467.5,338.9 470.8,333.8" fill="#111"/>
<text x="98.5" y="441" textLength="30.5" lengthAdjust="spacingAndGlyphs" style="font-family:'Liberation Sans',sans-serif;font-size:13px;font-weight:bold;font-style:italic;" fill="#111" xml:space="preserve">Pkt. 6</text>
<line x1="97" y1="445" x2="130" y2="445" stroke="#1a1a1a" stroke-width="0.96"/>
<line x1="130" y1="445" x2="222.3" y2="421.8" stroke="#1a1a1a" stroke-width="1.08"/>
<polygon points="232.5,419.2 223,424.7 221.6,418.9" fill="#111"/>
<line x1="130" y1="445" x2="259" y2="442.2" stroke="#1a1a1a" stroke-width="1.08"/>
<polygon points="269.5,442 259.1,445.2 258.9,439.2" fill="#111"/>
<text x="40.5" y="536.5" textLength="102.5" lengthAdjust="spacingAndGlyphs" style="font-family:'Liberation Sans',sans-serif;font-size:13px;font-style:italic;" fill="#111" xml:space="preserve">Nakrętka &#160;M12 ; Nut</text>
<text x="40.5" y="550.5" textLength="176.5" lengthAdjust="spacingAndGlyphs" style="font-family:'Liberation Sans',sans-serif;font-size:13px;font-style:italic;" fill="#111" xml:space="preserve">Podkł.spręż. 12,2 ; Spring Washer</text>
<text x="40.5" y="565" textLength="159.5" lengthAdjust="spacingAndGlyphs" style="font-family:'Liberation Sans',sans-serif;font-size:13px;font-style:italic;" fill="#111" xml:space="preserve">Podkł.okr. 13,0 ; &#160;Plain Washer</text>
<line x1="40" y1="569" x2="218" y2="569" stroke="#1a1a1a" stroke-width="0.96"/>
<line x1="218" y1="569" x2="229" y2="532.1" stroke="#1a1a1a" stroke-width="1.08"/>
<polygon points="232,522 231.9,532.9 226.1,531.2" fill="#111"/>
<text x="37.5" y="630" textLength="125.5" lengthAdjust="spacingAndGlyphs" style="font-family:'Liberation Sans',sans-serif;font-size:13px;font-style:italic;" fill="#111" xml:space="preserve">Śruba M12x34-8.8 ; Bolt</text>
<text x="37.5" y="644.5" textLength="180" lengthAdjust="spacingAndGlyphs" style="font-family:'Liberation Sans',sans-serif;font-size:13px;font-style:italic;" fill="#111" xml:space="preserve">Podkł. spręż. 12,2 ; Spring Washer</text>
<text x="37.5" y="658.5" textLength="163" lengthAdjust="spacingAndGlyphs" style="font-family:'Liberation Sans',sans-serif;font-size:13px;font-style:italic;" fill="#111" xml:space="preserve">Podkł. okr. 13,0 ; &#160;Plain Washer</text>
<line x1="36" y1="662.5" x2="218" y2="662.5" stroke="#1a1a1a" stroke-width="0.96"/>
<line x1="218" y1="662.5" x2="240.3" y2="639.1" stroke="#1a1a1a" stroke-width="1.08"/>
<polygon points="247.5,631.5 242.4,641.2 238.1,637" fill="#111"/>
<text x="370" y="658" textLength="124" lengthAdjust="spacingAndGlyphs" style="font-family:'Liberation Sans',sans-serif;font-size:13px;font-style:italic;" fill="#111" xml:space="preserve" stroke="#111" stroke-width="0.3">Śruba M12x35-8.8 ; Bolt</text>
<line x1="368" y1="661.5" x2="496" y2="661.5" stroke="#1a1a1a" stroke-width="0.96"/>
<line x1="368" y1="661.5" x2="341" y2="572.5" stroke="#1a1a1a" stroke-width="1.08"/>
<polygon points="338,562.5 343.9,571.7 338.2,573.4" fill="#111"/>
<line x1="368" y1="661.5" x2="358.6" y2="587.4" stroke="#1a1a1a" stroke-width="1.08"/>
<polygon points="357.3,577 361.6,587 355.6,587.8" fill="#111"/>
<text x="510" y="579" textLength="125" lengthAdjust="spacingAndGlyphs" style="font-family:'Liberation Sans',sans-serif;font-size:13px;font-style:italic;" fill="#111" xml:space="preserve">Śruba M12x70-8.8 ; Bolt</text>
<line x1="508" y1="583" x2="636" y2="583" stroke="#1a1a1a" stroke-width="0.96"/>
<line x1="508" y1="583" x2="399.9" y2="460.9" stroke="#1a1a1a" stroke-width="1.08"/>
<polygon points="392.9,453 402.1,458.9 397.6,462.9" fill="#111"/>
<text x="536" y="531.5" textLength="3.5" lengthAdjust="spacingAndGlyphs" style="font-family:'Liberation Sans',sans-serif;font-size:13px;font-weight:bold;font-style:italic;" fill="#111" xml:space="preserve">I</text>
<line x1="533" y1="534" x2="541" y2="534" stroke="#1a1a1a" stroke-width="0.96"/>
<line x1="533" y1="534" x2="443.7" y2="445.2" stroke="#1a1a1a" stroke-width="1.08"/>
<polygon points="436.3,437.8 445.9,443.1 441.6,447.3" fill="#111"/>
<text x="582.5" y="534" textLength="31.5" lengthAdjust="spacingAndGlyphs" style="font-family:'Liberation Sans',sans-serif;font-size:13px;font-weight:bold;font-style:italic;" fill="#111" xml:space="preserve">Pkt. 8</text>
<line x1="580" y1="536.5" x2="615" y2="536.5" stroke="#1a1a1a" stroke-width="0.96"/>
<line x1="580" y1="536.5" x2="453.4" y2="409.4" stroke="#1a1a1a" stroke-width="1.08"/>
<polygon points="448.5,404.4 455.6,407.2 451.3,411.5" fill="#111"/>
<line x1="580" y1="536.5" x2="467.3" y2="416.6" stroke="#1a1a1a" stroke-width="1.08"/>
<polygon points="462.5,411.5 469.5,414.5 465.1,418.7" fill="#111"/>
<text x="636" y="529.6" textLength="9" lengthAdjust="spacingAndGlyphs" style="font-family:'Liberation Sans',sans-serif;font-size:13px;font-weight:bold;font-style:italic;" fill="#111" xml:space="preserve">B</text>
<line x1="633" y1="532.8" x2="646" y2="532.8" stroke="#1a1a1a" stroke-width="0.96"/>
<line x1="633" y1="532.8" x2="548" y2="455" stroke="#1a1a1a" stroke-width="1.08"/>
<text x="537.5" y="390.5" textLength="11" lengthAdjust="spacingAndGlyphs" style="font-family:'Liberation Sans',sans-serif;font-size:13px;font-weight:bold;font-style:italic;" fill="#111" xml:space="preserve">G</text>
<line x1="535" y1="393" x2="550" y2="393" stroke="#1a1a1a" stroke-width="0.96"/>
<line x1="550" y1="393" x2="568.6" y2="345.8" stroke="#1a1a1a" stroke-width="1.08"/>
<polygon points="572.5,336 571.4,346.9 565.9,344.7" fill="#111"/>
<text x="722.5" y="428" textLength="103.5" lengthAdjust="spacingAndGlyphs" style="font-family:'Liberation Sans',sans-serif;font-size:13px;font-style:italic;" fill="#111" xml:space="preserve">Nakrętka &#160;M12 ; Nut</text>
<text x="722.5" y="442.5" textLength="202.5" lengthAdjust="spacingAndGlyphs" style="font-family:'Liberation Sans',sans-serif;font-size:13px;font-style:italic;" fill="#111" xml:space="preserve">Podkładka spręż. 12,2 ; Spring Washer</text>
<text x="722.5" y="457.5" textLength="205" lengthAdjust="spacingAndGlyphs" style="font-family:'Liberation Sans',sans-serif;font-size:13px;font-style:italic;" fill="#111" xml:space="preserve">Podkładka okrągła 13,0 ; &#160;Plain Washer</text>
<line x1="720" y1="461" x2="928" y2="461" stroke="#1a1a1a" stroke-width="0.96"/>
<line x1="720" y1="461" x2="659.8" y2="407.5" stroke="#1a1a1a" stroke-width="1.08"/>
<polygon points="652,400.5 661.8,405.2 657.9,409.7" fill="#111"/>
<text x="722.5" y="500.5" textLength="155" lengthAdjust="spacingAndGlyphs" style="font-family:'Liberation Sans',sans-serif;font-size:13px;font-style:italic;" fill="#111" xml:space="preserve">Śruba M10x1,25x50-8.8 ; Bolt</text>
<text x="722.5" y="515" textLength="202.5" lengthAdjust="spacingAndGlyphs" style="font-family:'Liberation Sans',sans-serif;font-size:13px;font-style:italic;" fill="#111" xml:space="preserve">Podkładka spręż. 10,2 ; Spring Washer</text>
<text x="722.5" y="529.5" textLength="205" lengthAdjust="spacingAndGlyphs" style="font-family:'Liberation Sans',sans-serif;font-size:13px;font-style:italic;" fill="#111" xml:space="preserve">Podkładka okrągła 10,5 ; &#160;Plain Washer</text>
<line x1="720" y1="533.5" x2="928" y2="533.5" stroke="#1a1a1a" stroke-width="0.96"/>
<line x1="720" y1="533.5" x2="637.6" y2="476.5" stroke="#1a1a1a" stroke-width="1.08"/>
<polygon points="629,470.5 639.3,474 635.9,478.9" fill="#111"/>
<text x="701" y="38" textLength="126.5" lengthAdjust="spacingAndGlyphs" style="font-family:'Liberation Sans',sans-serif;font-size:13px;font-style:italic;" fill="#111" xml:space="preserve" stroke="#111" stroke-width="0.3">Śruba M12x35-8.8 ; Bolt</text>
<line x1="700" y1="41.5" x2="828" y2="41.5" stroke="#1a1a1a" stroke-width="0.96"/>
<line x1="700" y1="41.5" x2="604.4" y2="51.4" stroke="#1a1a1a" stroke-width="1.08"/>
<polygon points="594,52.5 604.1,48.4 604.8,54.4" fill="#111"/>
<line x1="700" y1="41.5" x2="658.1" y2="75.8" stroke="#1a1a1a" stroke-width="1.08"/>
<polygon points="650,82.5 656.2,73.5 660,78.2" fill="#111"/>
<text x="517.5" y="64" textLength="31" lengthAdjust="spacingAndGlyphs" style="font-family:'Liberation Sans',sans-serif;font-size:13px;font-weight:bold;font-style:italic;" fill="#111" xml:space="preserve">Pkt. 2</text>
<line x1="516" y1="68.5" x2="549" y2="68.5" stroke="#1a1a1a" stroke-width="0.96"/>
<line x1="549" y1="68.5" x2="581.2" y2="131.6" stroke="#1a1a1a" stroke-width="1.08"/>
<polygon points="586,141 578.6,133 583.9,130.3" fill="#111"/>
<text x="698.5" y="90" textLength="30.5" lengthAdjust="spacingAndGlyphs" style="font-family:'Liberation Sans',sans-serif;font-size:13px;font-weight:bold;font-style:italic;" fill="#111" xml:space="preserve">Pkt. 1</text>
<line x1="697" y1="93" x2="730" y2="93" stroke="#1a1a1a" stroke-width="0.96"/>
<line x1="697" y1="93" x2="613" y2="153.8" stroke="#1a1a1a" stroke-width="1.08"/>
<polygon points="604.5,160 611.2,151.4 614.8,156.3" fill="#111"/>
<line x1="697" y1="93" x2="641.6" y2="170" stroke="#1a1a1a" stroke-width="1.08"/>
<polygon points="635.5,178.5 639.2,168.2 644.1,171.7" fill="#111"/>
<text x="777" y="71" textLength="153.5" lengthAdjust="spacingAndGlyphs" style="font-family:'Liberation Sans',sans-serif;font-size:13px;font-style:italic;" fill="#111" xml:space="preserve">Śruba M10x1,25x35-8.8 ; Bolt</text>
<line x1="775" y1="73.5" x2="932" y2="73.5" stroke="#1a1a1a" stroke-width="0.96"/>
<line x1="775" y1="73.5" x2="713.5" y2="133.7" stroke="#1a1a1a" stroke-width="1.08"/>
<polygon points="706,141 711.4,131.5 715.6,135.8" fill="#111"/>
<text x="801" y="105.5" textLength="31" lengthAdjust="spacingAndGlyphs" style="font-family:'Liberation Sans',sans-serif;font-size:13px;font-weight:bold;font-style:italic;" fill="#111" xml:space="preserve">Pkt. 2</text>
<line x1="800" y1="108" x2="833" y2="108" stroke="#1a1a1a" stroke-width="0.96"/>
<line x1="800" y1="108" x2="663.3" y2="181.1" stroke="#1a1a1a" stroke-width="1.08"/>
<polygon points="654,186 661.8,178.4 664.7,183.7" fill="#111"/>
<text x="801" y="139" textLength="126.5" lengthAdjust="spacingAndGlyphs" style="font-family:'Liberation Sans',sans-serif;font-size:13px;font-style:italic;" fill="#111" xml:space="preserve" stroke="#111" stroke-width="0.3">Śruba M12x35-8.8 ; Bolt</text>
<text x="863.5" y="139" textLength="13" lengthAdjust="spacingAndGlyphs" style="font-family:'Liberation Sans',sans-serif;font-size:13px;font-style:italic;" fill="#111" xml:space="preserve" stroke="#111" stroke-width="0.3">30</text>
<line x1="800" y1="141.5" x2="928" y2="141.5" stroke="#1a1a1a" stroke-width="0.96"/>
<line x1="800" y1="141.5" x2="759.3" y2="173.1" stroke="#1a1a1a" stroke-width="1.08"/>
<polygon points="751,179.5 757.5,170.7 761.1,175.4" fill="#111"/>
<line x1="800" y1="141.5" x2="767" y2="189.4" stroke="#1a1a1a" stroke-width="1.08"/>
<polygon points="761,198 764.5,187.7 769.4,191.1" fill="#111"/>
<text x="796" y="247.6" textLength="31.5" lengthAdjust="spacingAndGlyphs" style="font-family:'Liberation Sans',sans-serif;font-size:13px;font-weight:bold;font-style:italic;" fill="#111" xml:space="preserve">Pkt. 7</text>
<line x1="795" y1="251.5" x2="829" y2="251.5" stroke="#1a1a1a" stroke-width="0.96"/>
<line x1="795" y1="251.5" x2="615.8" y2="260.8" stroke="#1a1a1a" stroke-width="1.08"/>
<polygon points="605.3,261.3 615.6,257.8 615.9,263.8" fill="#111"/>
<line x1="795" y1="251.5" x2="625.4" y2="277.9" stroke="#1a1a1a" stroke-width="1.08"/>
<polygon points="615,279.5 624.9,274.9 625.8,280.9" fill="#111"/>
<line x1="795" y1="251.5" x2="635.9" y2="274" stroke="#1a1a1a" stroke-width="1.08"/>
<polygon points="625.5,275.5 635.5,271.1 636.3,277" fill="#111"/>
<text x="796" y="273.3" textLength="31.5" lengthAdjust="spacingAndGlyphs" style="font-family:'Liberation Sans',sans-serif;font-size:13px;font-weight:bold;font-style:italic;" fill="#111" xml:space="preserve">Pkt. 5</text>
<line x1="795" y1="277" x2="829" y2="277" stroke="#1a1a1a" stroke-width="0.96"/>
<line x1="795" y1="277" x2="594.7" y2="324.4" stroke="#1a1a1a" stroke-width="1.08"/>
<polygon points="584.5,326.8 594,321.5 595.4,327.3" fill="#111"/>
<line x1="795" y1="277" x2="602.2" y2="320.9" stroke="#1a1a1a" stroke-width="1.08"/>
<polygon points="592,323.2 601.6,317.9 602.9,323.8" fill="#111"/>
<line x1="795" y1="277" x2="626.7" y2="346.3" stroke="#1a1a1a" stroke-width="1.08"/>
<polygon points="617,350.3 625.6,343.5 627.9,349.1" fill="#111"/>
<line x1="795" y1="277" x2="636.7" y2="341.3" stroke="#1a1a1a" stroke-width="1.08"/>
<polygon points="627,345.2 635.6,338.5 637.9,344" fill="#111"/>
<text x="549" y="626.5" textLength="48.5" lengthAdjust="spacingAndGlyphs" style="font-family:'Liberation Sans',sans-serif;font-size:8.5px;font-style:italic;" fill="#111" xml:space="preserve">Nr katalogowy</text>
<text x="614" y="627" textLength="27" lengthAdjust="spacingAndGlyphs" style="font-family:'Liberation Sans',sans-serif;font-size:10.5px;font-weight:bold;font-style:italic;" fill="#111" xml:space="preserve">Marka</text>
<text x="547.5" y="648" textLength="36.5" lengthAdjust="spacingAndGlyphs" style="font-family:'Liberation Sans',sans-serif;font-size:14px;font-weight:bold;font-style:italic;" fill="#111" xml:space="preserve">K/020</text>
<text x="614" y="648" textLength="72" lengthAdjust="spacingAndGlyphs" style="font-family:'Liberation Sans',sans-serif;font-size:13px;font-weight:bold;font-style:italic;" fill="#111" xml:space="preserve">KIA Sportage</text>
<text x="721" y="648" textLength="48" lengthAdjust="spacingAndGlyphs" style="font-family:'Liberation Sans',sans-serif;font-size:13px;font-weight:bold;font-style:italic;" fill="#111" xml:space="preserve">od 2004-</text>
<text x="614" y="669" textLength="92" lengthAdjust="spacingAndGlyphs" style="font-family:'Liberation Sans',sans-serif;font-size:13px;font-weight:bold;font-style:italic;" fill="#111" xml:space="preserve">Hyunday Tucson</text>
<text x="721" y="669" textLength="48" lengthAdjust="spacingAndGlyphs" style="font-family:'Liberation Sans',sans-serif;font-size:13px;font-weight:bold;font-style:italic;" fill="#111" xml:space="preserve">od 2004-</text>
<text x="787" y="635" textLength="135.5" lengthAdjust="spacingAndGlyphs" style="font-family:'Liberation Serif',sans-serif;font-size:42px;font-weight:bold;" fill="#c4242a" xml:space="preserve">HAK-POL</text>
<rect x="785.6" y="640" width="158.5" height="6.4" fill="#111"/>
<text x="788" y="645.6" textLength="58" lengthAdjust="spacingAndGlyphs" style="font-family:'Liberation Serif',sans-serif;font-size:6.5px;font-weight:bold;" fill="#fff" xml:space="preserve">I M I O Ł A</text>
<rect x="935.6" y="618" width="4.2" height="23" fill="#111"/>
<circle cx="937.6" cy="611" r="9" fill="#111"/>
<path d="M930.2 607.5 A8 8 0 0 1 945 607.5 Q937.6 611.5 930.2 607.5Z" fill="#eee"/>
<text x="788" y="656" textLength="126.5" lengthAdjust="spacingAndGlyphs" style="font-family:'Liberation Serif',sans-serif;font-size:9px;font-weight:bold;" fill="#222" xml:space="preserve">96-111 Kowiesy, Chojnata 23 A</text>
<text x="788" y="668.4" textLength="70.5" lengthAdjust="spacingAndGlyphs" style="font-family:'Liberation Serif',sans-serif;font-size:8px;" fill="#444" xml:space="preserve">tel. +48 46 831 73 31</text>
</svg>
</body></html>
